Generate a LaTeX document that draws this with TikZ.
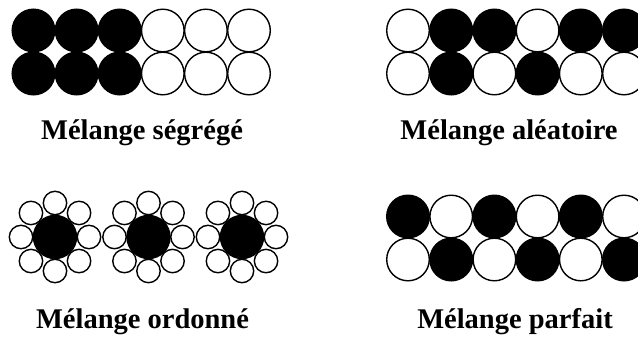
\documentclass[tikz,border=0pt]{standalone}
\usepackage{fontspec}
\setmainfont{Liberation Serif}
\begin{document}
\begin{tikzpicture}[x=1pt,y=-1pt,
  ball/.style={draw=black,line width=1.4pt},
  bl/.style={ball,fill=black},
  wh/.style={ball,fill=white},
  lbl/.style={anchor=base,inner sep=0pt,font=\fontsize{28.5}{32}\selectfont\bfseries}]
\useasboundingbox (0,0) rectangle (638,338);
\clip (0,0) rectangle (638,338);
% segregated
\def\R{21.3}
\foreach \i/\c in {0/bl,1/bl,2/bl,3/wh,4/wh,5/wh}{
  \draw[\c] ({33.5+43.1*\i},30.5) circle (\R);
  \draw[\c] ({33.5+43.1*\i},73.5) circle (\R);
}
% random
\foreach \i/\c in {0/wh,1/bl,2/bl,3/wh,4/bl,5/bl}{
  \draw[\c] ({408+43.2*\i},30.5) circle (\R);
}
\foreach \i/\c in {0/wh,1/bl,2/wh,3/bl,4/wh,5/wh}{
  \draw[\c] ({408+43.2*\i},73.5) circle (\R);
}
% perfect
\foreach \i/\c in {0/bl,1/wh,2/bl,3/wh,4/bl,5/wh}{
  \draw[\c] ({408+43.2*\i},216.5) circle (\R);
}
\foreach \i/\c in {0/wh,1/bl,2/wh,3/bl,4/wh,5/bl}{
  \draw[\c] ({408+43.2*\i},259.5) circle (\R);
}
% ordered
\foreach \cx in {55,148.5,242}{
  \foreach \a in {0,45,...,315}{
    \draw[wh] ({\cx+34*cos(\a)},{237-34*sin(\a)}) circle (11.7);
  }
  \draw[bl] (\cx,237) circle (21.5);
}
\node[lbl] (t1) at (142,139) {Mélange ségrégé};
\node[lbl] (t2) at (509,139) {Mélange aléatoire};
\node[lbl] (t3) at (142.5,328) {Mélange ordonné};
\node[lbl] (t4) at (515,328) {Mélange parfait};
\end{tikzpicture}
\end{document}
